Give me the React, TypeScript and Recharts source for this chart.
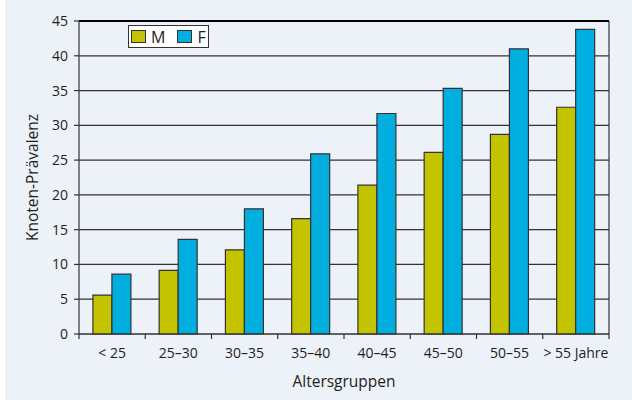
import React from "react";
import {
  BarChart,
  Bar,
  XAxis,
  YAxis,
  CartesianGrid,
  ReferenceLine,
  Label,
} from "recharts";

const groups = ["< 25", "25–30", "30–35", "35–40", "40–45", "45–50", "50–55", "> 55 Jahre"];
const maleValues = [5.6, 9.15, 12.1, 16.6, 21.4, 26.1, 28.7, 32.6];
const femaleValues = [8.6, 13.6, 18.0, 25.9, 31.7, 35.3, 41.0, 43.8];
const yTicks = [0, 5, 10, 15, 20, 25, 30, 35, 40, 45];
const seriesKeys = ["M", "F"] as const;

const COLORS = {
  M: "#c3c300",
  F: "#00aedf",
};

const FONT = "'Open Sans', 'DejaVu Sans', sans-serif";
const LINE = "#333333";
const TEXT = "#1e1e1e";

const data = groups.map((g, i) => ({ gruppe: g, M: maleValues[i], F: femaleValues[i] }));

function GroupTick(props: any) {
  const { x, y, payload, index, visibleTicksCount } = props;
  const half = payload && payload.offset ? payload.offset : 33.1;
  const last = index === (visibleTicksCount ?? groups.length) - 1;
  return (
    <g>
      <line x1={x - half} x2={x - half} y1={y} y2={y + 5} stroke={LINE} strokeWidth={1.2} />
      {last && <line x1={x + half} x2={x + half} y1={y} y2={y + 5} stroke={LINE} strokeWidth={1.2} />}
      <text x={x} y={y + 24} textAnchor="middle" fontSize={14} fill={TEXT} fontFamily={FONT}>
        {payload.value}
      </text>
    </g>
  );
}

// legend drawn as an overlay so it does not take space from the plot
function LegendBox() {
  return (
    <div
      style={{
        position: "absolute",
        left: 128,
        top: 25,
        width: 81,
        height: 23,
        background: "#fff",
        border: `1px solid ${LINE}`,
        boxSizing: "border-box",
        display: "flex",
        alignItems: "center",
        paddingLeft: 2,
      }}
    >
      {seriesKeys.map((key) => (
        <span key={key} style={{ display: "inline-flex", alignItems: "center", marginRight: 12 }}>
          <span
            style={{
              width: 13,
              height: 11,
              background: COLORS[key],
              border: `1.5px solid ${LINE}`,
              marginRight: 5,
              display: "inline-block",
            }}
          />
          <span style={{ fontSize: 16, color: TEXT, fontFamily: FONT, lineHeight: "16px" }}>{key}</span>
        </span>
      ))}
    </div>
  );
}

export default function App() {
  return (
    <div style={{ position: "absolute", left: 0, top: 0, width: 632, height: 404, background: "#fff" }}>
      <div style={{ position: "absolute", left: 5, top: 0, width: 627, height: 400, background: "#edf1f8" }} />
      <div style={{ position: "absolute", left: 0, top: 0 }}>
        <BarChart
          width={632}
          height={404}
          data={data}
          margin={{ top: 21, right: 23, left: 0, bottom: 0 }}
          barCategoryGap="21%"
          barGap={0}
        >
          <CartesianGrid
            stroke={LINE}
            strokeWidth={1.2}
            horizontal
            verticalCoordinatesGenerator={({ offset }: any) => [offset.left + offset.width]}
          />
          <XAxis
            dataKey="gruppe"
            height={70}
            tickSize={0}
            tickMargin={0}
            tick={<GroupTick />}
            axisLine={{ stroke: LINE, strokeWidth: 1.2 }}
            interval={0}
          >
            <Label value="Altersgruppen" position="insideBottom" offset={17} fontSize={15.5} fill={TEXT} fontFamily={FONT} />
          </XAxis>
          <YAxis
            width={79}
            domain={[0, 45]}
            ticks={yTicks}
            interval={0}
            tickSize={5}
            tickMargin={6}
            tick={{ fontSize: 14, fill: TEXT, fontFamily: FONT }}
            tickLine={{ stroke: LINE, strokeWidth: 1.2 }}
            axisLine={{ stroke: LINE, strokeWidth: 1.2 }}
          >
            <Label
              value="Knoten-Prävalenz"
              angle={-90}
              position="insideLeft"
              offset={32}
              style={{ textAnchor: "middle" }}
              fontSize={15.5}
              fill={TEXT}
              fontFamily={FONT}
            />
          </YAxis>
          <ReferenceLine y={45} stroke="#000" strokeWidth={2.2} />
          <Bar dataKey="M" fill={COLORS.M} stroke={LINE} strokeWidth={1.2} isAnimationActive={false} />
          <Bar dataKey="F" fill={COLORS.F} stroke={LINE} strokeWidth={1.2} isAnimationActive={false} />
        </BarChart>
      </div>
      <LegendBox />
    </div>
  );
}
